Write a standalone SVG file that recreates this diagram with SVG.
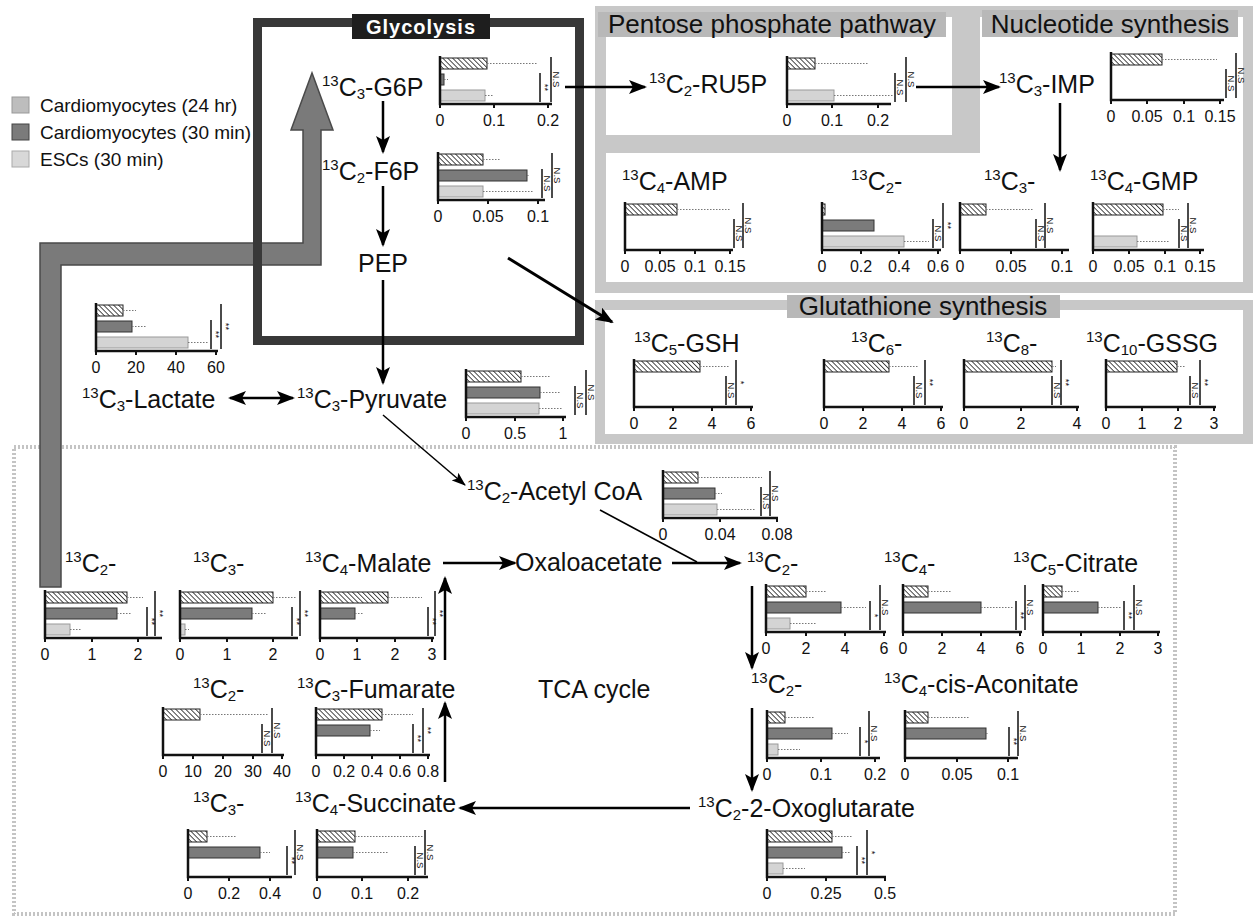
<svg xmlns="http://www.w3.org/2000/svg" width="1254" height="919" viewBox="0 0 1254 919">
<defs>
<style>
text{font-family:"Liberation Sans",Arial,sans-serif;fill:#111}
.lbl{font-size:25px}
.s{font-size:15px}
.tl{font-size:16px;text-anchor:middle}
.sl{font-size:9.5px;text-anchor:middle}
.leg{font-size:19px}
.ttl{font-size:26px;text-anchor:middle}
.ax{fill:none;stroke:#111;stroke-width:2.5}
.tk{fill:none;stroke:#111;stroke-width:2}
.hb{fill:url(#hatch);stroke:#222;stroke-width:1}
.db{fill:#7b7b7b;stroke:#333;stroke-width:1}
.lb{fill:#d4d4d4;stroke:#9a9a9a;stroke-width:1}
.eb{fill:none;stroke:#777;stroke-width:1;stroke-dasharray:1.5 1.5}
.sg{fill:none;stroke:#111;stroke-width:1.5}
.con{fill:none;stroke:#000;stroke-width:2.5;marker-end:url(#ah)}
.thin{fill:none;stroke:#000;stroke-width:1.5}
</style>
<pattern id="hatch" width="3.5" height="3.5" patternUnits="userSpaceOnUse" patternTransform="rotate(-45)"><rect width="3.5" height="3.5" fill="#fff"/><line x1="0" y1="0" x2="0" y2="3.5" stroke="#222" stroke-width="1.6"/></pattern>
<marker id="ah" markerUnits="userSpaceOnUse" markerWidth="18" markerHeight="14" refX="16" refY="7" orient="auto-start-reverse"><path d="M0,0 L18,7 L0,14 L4,7 z" fill="#000"/></marker>
<marker id="ahs" markerUnits="userSpaceOnUse" markerWidth="14" markerHeight="10" refX="13" refY="5" orient="auto"><path d="M0,0 L14,5 L0,10 L3,5 z" fill="#000"/></marker>
</defs>
<rect width="1254" height="919" fill="#fff"/>

<g id="tca-box"><rect x="14" y="447" width="1161" height="467" fill="none" stroke="#c4c4c4" stroke-width="4" stroke-dasharray="2 2"/></g>

<g id="pentose-nucleotide-frames">
<rect x="595" y="6" width="658" height="287" fill="#c8c8c8"/>
<rect x="606" y="17" width="346" height="118" fill="#fff"/>
<polygon points="980,17 1243,17 1243,282 606,282 606,153 980,153" fill="#fff"/>
</g>
<g id="pentose-title"><rect x="598" y="12" width="348" height="25" fill="#b8b8b8"/><text class="ttl" x="772" y="33">Pentose phosphate pathway</text></g>
<g id="nucleotide-title"><rect x="982" y="10" width="256" height="27" fill="#b8b8b8"/><text class="ttl" x="1110" y="33">Nucleotide synthesis</text></g>

<g id="glutathione-frame"><rect x="600" y="305" width="648" height="134" fill="none" stroke="#c8c8c8" stroke-width="10"/>
<rect x="787" y="295" width="273" height="23" fill="#b8b8b8"/><text class="ttl" x="923" y="315">Glutathione synthesis</text></g>

<g id="big-arrow"><path d="M40,587 V243 H303 V130 H291 L312,73 L333,130 H321 V265 H61 V587 Z" fill="#7a7a7a" stroke="#4a4a4a" stroke-width="1.5"/></g>

<g id="glycolysis-frame"><rect x="257.5" y="22.5" width="322" height="318" fill="none" stroke="#383838" stroke-width="9"/>
<rect x="352" y="14" width="138" height="25" fill="#1e1e1e"/><text x="421" y="33.5" text-anchor="middle" font-size="20" font-weight="bold" letter-spacing="1" style="fill:#fff">Glycolysis</text></g>

<g id="legend">
<rect x="12" y="97" width="17" height="16" fill="#bdbdbd" stroke="#999" stroke-width="1"/>
<rect x="12" y="124" width="17" height="16" fill="#7b7b7b" stroke="#444" stroke-width="1"/>
<rect x="12" y="151" width="17" height="16" fill="#d8d8d8" stroke="#aaa" stroke-width="1"/>
<text class="leg" x="40" y="112">Cardiomyocytes (24 hr)</text>
<text class="leg" x="40" y="139">Cardiomyocytes (30 min)</text>
<text class="leg" x="40" y="166">ESCs (30 min)</text>
</g>

<g id="labels">
<text id="n-g6p" class="lbl" x="322" y="96"><tspan class="s" dy="-10">13</tspan><tspan dy="10">C</tspan><tspan class="s" dy="3">3</tspan><tspan dy="-3">-G6P</tspan></text>
<text id="n-f6p" class="lbl" x="322" y="180"><tspan class="s" dy="-10">13</tspan><tspan dy="10">C</tspan><tspan class="s" dy="3">2</tspan><tspan dy="-3">-F6P</tspan></text>
<text id="n-pep" class="lbl" x="358" y="272">PEP</text>
<text id="n-ru5p" class="lbl" x="649" y="93"><tspan class="s" dy="-10">13</tspan><tspan dy="10">C</tspan><tspan class="s" dy="3">2</tspan><tspan dy="-3">-RU5P</tspan></text>
<text id="n-imp" class="lbl" x="999" y="93"><tspan class="s" dy="-10">13</tspan><tspan dy="10">C</tspan><tspan class="s" dy="3">3</tspan><tspan dy="-3">-IMP</tspan></text>
<text id="n-amp" class="lbl" x="622" y="190"><tspan class="s" dy="-10">13</tspan><tspan dy="10">C</tspan><tspan class="s" dy="3">4</tspan><tspan dy="-3">-AMP</tspan></text>
<text id="n-nc2" class="lbl" x="851" y="190"><tspan class="s" dy="-10">13</tspan><tspan dy="10">C</tspan><tspan class="s" dy="3">2</tspan><tspan dy="-3">-</tspan></text>
<text id="n-nc3" class="lbl" x="984" y="190"><tspan class="s" dy="-10">13</tspan><tspan dy="10">C</tspan><tspan class="s" dy="3">3</tspan><tspan dy="-3">-</tspan></text>
<text id="n-gmp" class="lbl" x="1090" y="190"><tspan class="s" dy="-10">13</tspan><tspan dy="10">C</tspan><tspan class="s" dy="3">4</tspan><tspan dy="-3">-GMP</tspan></text>
<text id="n-gsh" class="lbl" x="634" y="352"><tspan class="s" dy="-10">13</tspan><tspan dy="10">C</tspan><tspan class="s" dy="3">5</tspan><tspan dy="-3">-GSH</tspan></text>
<text id="n-c6" class="lbl" x="851" y="352"><tspan class="s" dy="-10">13</tspan><tspan dy="10">C</tspan><tspan class="s" dy="3">6</tspan><tspan dy="-3">-</tspan></text>
<text id="n-c8" class="lbl" x="986" y="352"><tspan class="s" dy="-10">13</tspan><tspan dy="10">C</tspan><tspan class="s" dy="3">8</tspan><tspan dy="-3">-</tspan></text>
<text id="n-gssg" class="lbl" x="1086" y="352"><tspan class="s" dy="-10">13</tspan><tspan dy="10">C</tspan><tspan class="s" dy="3">10</tspan><tspan dy="-3">-GSSG</tspan></text>
<text id="n-lac" class="lbl" x="82" y="408"><tspan class="s" dy="-10">13</tspan><tspan dy="10">C</tspan><tspan class="s" dy="3">3</tspan><tspan dy="-3">-Lactate</tspan></text>
<text id="n-pyr" class="lbl" x="297" y="408"><tspan class="s" dy="-10">13</tspan><tspan dy="10">C</tspan><tspan class="s" dy="3">3</tspan><tspan dy="-3">-Pyruvate</tspan></text>
<text id="n-acoa" class="lbl" x="467" y="500"><tspan class="s" dy="-10">13</tspan><tspan dy="10">C</tspan><tspan class="s" dy="3">2</tspan><tspan dy="-3">-Acetyl CoA</tspan></text>
<text id="n-oaa" class="lbl" x="515" y="571">Oxaloacetate</text>
<text id="n-m2" class="lbl" x="65" y="572"><tspan class="s" dy="-10">13</tspan><tspan dy="10">C</tspan><tspan class="s" dy="3">2</tspan><tspan dy="-3">-</tspan></text>
<text id="n-m3" class="lbl" x="193" y="572"><tspan class="s" dy="-10">13</tspan><tspan dy="10">C</tspan><tspan class="s" dy="3">3</tspan><tspan dy="-3">-</tspan></text>
<text id="n-mal" class="lbl" x="305" y="572"><tspan class="s" dy="-10">13</tspan><tspan dy="10">C</tspan><tspan class="s" dy="3">4</tspan><tspan dy="-3">-Malate</tspan></text>
<text id="n-ci2" class="lbl" x="747" y="572"><tspan class="s" dy="-10">13</tspan><tspan dy="10">C</tspan><tspan class="s" dy="3">2</tspan><tspan dy="-3">-</tspan></text>
<text id="n-ci4" class="lbl" x="884" y="572"><tspan class="s" dy="-10">13</tspan><tspan dy="10">C</tspan><tspan class="s" dy="3">4</tspan><tspan dy="-3">-</tspan></text>
<text id="n-cit" class="lbl" x="1013" y="572"><tspan class="s" dy="-10">13</tspan><tspan dy="10">C</tspan><tspan class="s" dy="3">5</tspan><tspan dy="-3">-Citrate</tspan></text>
<text id="n-f2" class="lbl" x="193" y="698"><tspan class="s" dy="-10">13</tspan><tspan dy="10">C</tspan><tspan class="s" dy="3">2</tspan><tspan dy="-3">-</tspan></text>
<text id="n-fum" class="lbl" x="297" y="698"><tspan class="s" dy="-10">13</tspan><tspan dy="10">C</tspan><tspan class="s" dy="3">3</tspan><tspan dy="-3">-Fumarate</tspan></text>
<text id="n-tca" class="lbl" x="538" y="698">TCA cycle</text>
<text id="n-a2" class="lbl" x="751" y="693"><tspan class="s" dy="-10">13</tspan><tspan dy="10">C</tspan><tspan class="s" dy="3">2</tspan><tspan dy="-3">-</tspan></text>
<text id="n-aco" class="lbl" x="884" y="693"><tspan class="s" dy="-10">13</tspan><tspan dy="10">C</tspan><tspan class="s" dy="3">4</tspan><tspan dy="-3">-cis-Aconitate</tspan></text>
<text id="n-s3" class="lbl" x="193" y="812"><tspan class="s" dy="-10">13</tspan><tspan dy="10">C</tspan><tspan class="s" dy="3">3</tspan><tspan dy="-3">-</tspan></text>
<text id="n-suc" class="lbl" x="295" y="812"><tspan class="s" dy="-10">13</tspan><tspan dy="10">C</tspan><tspan class="s" dy="3">4</tspan><tspan dy="-3">-Succinate</tspan></text>
<text id="n-oxo" class="lbl" x="698" y="817"><tspan class="s" dy="-10">13</tspan><tspan dy="10">C</tspan><tspan class="s" dy="3">2</tspan><tspan dy="-3">-2-Oxoglutarate</tspan></text>
</g>

<g id="charts">
<g id="c-g6p" transform="translate(440,56)">
<rect class="hb" x="0" y="2" width="47" height="11"/><rect class="db" x="0" y="18" width="4" height="11"/><rect class="lb" x="0" y="34" width="45" height="11"/>
<path class="eb" d="M47,7.5H98M4,23.5H8M45,39.5H54"/>
<path class="ax" d="M0,0V48H112"/><path class="tk" d="M0,48v4M54,48v4M108,48v4"/>
<text class="tl" x="0" y="70">0</text><text class="tl" x="54" y="70">0.1</text><text class="tl" x="108" y="70">0.2</text>
<path class="sg" d="M100,17V46M111,1V46"/><text class="sl" transform="translate(101.5,31.5) rotate(90)">**</text><text class="sl" transform="translate(112.5,23.5) rotate(90)">N.S</text>
</g>
<g id="c-f6p" transform="translate(438,152)">
<rect class="hb" x="0" y="2" width="45" height="11"/><rect class="db" x="0" y="18" width="89" height="11"/><rect class="lb" x="0" y="34" width="45" height="11"/>
<path class="eb" d="M45,7.5H62M89,23.5H92M45,39.5H96"/>
<path class="ax" d="M0,0V48H107"/><path class="tk" d="M0,48v4M50,48v4M100,48v4"/>
<text class="tl" x="0" y="70">0</text><text class="tl" x="50" y="70">0.05</text><text class="tl" x="100" y="70">0.1</text>
<path class="sg" d="M104,17V46M114,1V46"/><text class="sl" transform="translate(105.5,31.5) rotate(90)">N.S</text><text class="sl" transform="translate(115.5,23.5) rotate(90)">N.S</text>
</g>
<g id="c-ru5p" transform="translate(787,56)">
<rect class="hb" x="0" y="2" width="28" height="11"/><rect class="lb" x="0" y="34" width="47" height="11"/>
<path class="eb" d="M28,7.5H81M47,39.5H106"/>
<path class="ax" d="M0,0V48H104"/><path class="tk" d="M0,48v4M45,48v4M91,48v4"/>
<text class="tl" x="0" y="70">0</text><text class="tl" x="45" y="70">0.1</text><text class="tl" x="91" y="70">0.2</text>
<path class="sg" d="M108,17V46M119,1V46"/><text class="sl" transform="translate(109.5,31.5) rotate(90)">N.S</text><text class="sl" transform="translate(120.5,23.5) rotate(90)">N.S</text>
</g>
<g id="c-imp" transform="translate(1111,52)">
<rect class="hb" x="0" y="2" width="51" height="11"/>
<path class="eb" d="M51,7.5H106"/>
<path class="ax" d="M0,0V48H113"/><path class="tk" d="M0,48v4M36,48v4M73,48v4M109,48v4"/>
<text class="tl" x="0" y="70">0</text><text class="tl" x="36" y="70">0.05</text><text class="tl" x="73" y="70">0.1</text><text class="tl" x="109" y="70">0.15</text>
<path class="sg" d="M115,17V46M125,1V46"/><text class="sl" transform="translate(116.5,31.5) rotate(90)">N.S</text><text class="sl" transform="translate(126.5,23.5) rotate(90)">N.S</text>
</g>
<g id="c-amp" transform="translate(625,202)">
<rect class="hb" x="0" y="2" width="52" height="11"/>
<path class="eb" d="M52,7.5H105"/>
<path class="ax" d="M0,0V48H108"/><path class="tk" d="M0,48v4M35,48v4M70,48v4M105,48v4"/>
<text class="tl" x="0" y="70">0</text><text class="tl" x="35" y="70">0.05</text><text class="tl" x="70" y="70">0.1</text><text class="tl" x="105" y="70">0.15</text>
<path class="sg" d="M109,17V46M118,1V46"/><text class="sl" transform="translate(110.5,31.5) rotate(90)">N.S</text><text class="sl" transform="translate(119.5,23.5) rotate(90)">N.S</text>
</g>
<g id="c-nc2" transform="translate(822,202)">
<rect class="hb" x="0" y="2" width="3" height="11"/><rect class="db" x="0" y="18" width="52" height="11"/><rect class="lb" x="0" y="34" width="82" height="11"/>
<path class="eb" d="M82,39.5H107"/>
<path class="ax" d="M0,0V48H119"/><path class="tk" d="M0,48v4M39,48v4M77,48v4M116,48v4"/>
<text class="tl" x="0" y="70">0</text><text class="tl" x="39" y="70">0.2</text><text class="tl" x="77" y="70">0.4</text><text class="tl" x="116" y="70">0.6</text>
<path class="sg" d="M111,17V46M121,1V46"/><text class="sl" transform="translate(112.5,31.5) rotate(90)">N.S</text><text class="sl" transform="translate(122.5,23.5) rotate(90)">**</text>
</g>
<g id="c-nc3" transform="translate(960,202)">
<rect class="hb" x="0" y="2" width="26" height="11"/>
<path class="eb" d="M26,7.5H73"/>
<path class="ax" d="M0,0V48H109"/><path class="tk" d="M0,48v4M51,48v4M102,48v4"/>
<text class="tl" x="0" y="70">0</text><text class="tl" x="51" y="70">0.05</text><text class="tl" x="102" y="70">0.1</text>
<path class="sg" d="M76,17V46M85,1V46"/><text class="sl" transform="translate(77.5,31.5) rotate(90)">N.S</text><text class="sl" transform="translate(86.5,23.5) rotate(90)">N.S</text>
</g>
<g id="c-gmp" transform="translate(1093,202)">
<rect class="hb" x="0" y="2" width="70" height="11"/><rect class="lb" x="0" y="34" width="44" height="11"/>
<path class="eb" d="M70,7.5H86M44,39.5H77"/>
<path class="ax" d="M0,0V48H111"/><path class="tk" d="M0,48v4M36,48v4M72,48v4M107,48v4"/>
<text class="tl" x="0" y="70">0</text><text class="tl" x="36" y="70">0.05</text><text class="tl" x="72" y="70">0.1</text><text class="tl" x="107" y="70">0.15</text>
<path class="sg" d="M86,17V46M95,1V46"/><text class="sl" transform="translate(87.5,31.5) rotate(90)">N.S</text><text class="sl" transform="translate(96.5,23.5) rotate(90)">N.S</text>
</g>
<g id="c-gsh" transform="translate(634,359)">
<rect class="hb" x="0" y="2" width="66" height="11"/>
<path class="eb" d="M66,7.5H96"/>
<path class="ax" d="M0,0V48H119"/><path class="tk" d="M0,48v4M39,48v4M78,48v4M117,48v4"/>
<text class="tl" x="0" y="70">0</text><text class="tl" x="39" y="70">2</text><text class="tl" x="78" y="70">4</text><text class="tl" x="117" y="70">6</text>
<path class="sg" d="M92,17V46M102,1V46"/><text class="sl" transform="translate(93.5,31.5) rotate(90)">N.S</text><text class="sl" transform="translate(103.5,23.5) rotate(90)">*</text>
</g>
<g id="c-c6" transform="translate(824,359)">
<rect class="hb" x="0" y="2" width="65" height="11"/>
<path class="eb" d="M65,7.5H94"/>
<path class="ax" d="M0,0V48H119"/><path class="tk" d="M0,48v4M39,48v4M78,48v4M117,48v4"/>
<text class="tl" x="0" y="70">0</text><text class="tl" x="39" y="70">2</text><text class="tl" x="78" y="70">4</text><text class="tl" x="117" y="70">6</text>
<path class="sg" d="M90,17V46M101,1V46"/><text class="sl" transform="translate(91.5,31.5) rotate(90)">N.S</text><text class="sl" transform="translate(102.5,23.5) rotate(90)">**</text>
</g>
<g id="c-c8" transform="translate(964,359)">
<rect class="hb" x="0" y="2" width="88" height="11"/>
<path class="eb" d="M88,7.5H92"/>
<path class="ax" d="M0,0V48H115"/><path class="tk" d="M0,48v4M57,48v4M113,48v4"/>
<text class="tl" x="0" y="70">0</text><text class="tl" x="57" y="70">2</text><text class="tl" x="113" y="70">4</text>
<path class="sg" d="M88,17V46M97,1V46"/><text class="sl" transform="translate(89.5,31.5) rotate(90)">N.S</text><text class="sl" transform="translate(98.5,23.5) rotate(90)">**</text>
</g>
<g id="c-gssg" transform="translate(1106,359)">
<rect class="hb" x="0" y="2" width="71" height="11"/>
<path class="eb" d="M71,7.5H79"/>
<path class="ax" d="M0,0V48H110"/><path class="tk" d="M0,48v4M36,48v4M72,48v4M108,48v4"/>
<text class="tl" x="0" y="70">0</text><text class="tl" x="36" y="70">1</text><text class="tl" x="72" y="70">2</text><text class="tl" x="108" y="70">3</text>
<path class="sg" d="M84,17V46M94,1V46"/><text class="sl" transform="translate(85.5,31.5) rotate(90)">N.S</text><text class="sl" transform="translate(95.5,23.5) rotate(90)">**</text>
</g>
<g id="c-lac" transform="translate(96,303)">
<rect class="hb" x="0" y="2" width="27" height="11"/><rect class="db" x="0" y="18" width="36" height="11"/><rect class="lb" x="0" y="34" width="92" height="11"/>
<path class="eb" d="M27,7.5H40M36,23.5H51M92,39.5H113"/>
<path class="ax" d="M0,0V48H122"/><path class="tk" d="M0,48v4M40,48v4M80,48v4M120,48v4"/>
<text class="tl" x="0" y="70">0</text><text class="tl" x="40" y="70">20</text><text class="tl" x="80" y="70">40</text><text class="tl" x="120" y="70">60</text>
<path class="sg" d="M115,17V46M125,1V46"/><text class="sl" transform="translate(116.5,31.5) rotate(90)">**</text><text class="sl" transform="translate(126.5,23.5) rotate(90)">**</text>
</g>
<g id="c-pyr" transform="translate(466,369)">
<rect class="hb" x="0" y="2" width="55" height="11"/><rect class="db" x="0" y="18" width="74" height="11"/><rect class="lb" x="0" y="34" width="73" height="11"/>
<path class="eb" d="M55,7.5H84M74,23.5H95M73,39.5H97"/>
<path class="ax" d="M0,0V48H100"/><path class="tk" d="M0,48v4M49,48v4M97,48v4"/>
<text class="tl" x="0" y="70">0</text><text class="tl" x="49" y="70">0.5</text><text class="tl" x="97" y="70">1</text>
<path class="sg" d="M109,17V46M120,1V46"/><text class="sl" transform="translate(110.5,31.5) rotate(90)">N.S</text><text class="sl" transform="translate(121.5,23.5) rotate(90)">N.S</text>
</g>
<g id="c-acoa" transform="translate(663,470)">
<rect class="hb" x="0" y="2" width="35" height="11"/><rect class="db" x="0" y="18" width="52" height="11"/><rect class="lb" x="0" y="34" width="54" height="11"/>
<path class="eb" d="M35,7.5H99M52,23.5H59M54,39.5H92"/>
<path class="ax" d="M0,0V48H115"/><path class="tk" d="M0,48v4M57,48v4M114,48v4"/>
<text class="tl" x="0" y="70">0</text><text class="tl" x="57" y="70">0.04</text><text class="tl" x="114" y="70">0.08</text>
<path class="sg" d="M98,17V46M107,1V46"/><text class="sl" transform="translate(99.5,31.5) rotate(90)">N.S</text><text class="sl" transform="translate(108.5,23.5) rotate(90)">N.S</text>
</g>
<g id="c-m2" transform="translate(45,590)">
<rect class="hb" x="0" y="2" width="82" height="11"/><rect class="db" x="0" y="18" width="72" height="11"/><rect class="lb" x="0" y="34" width="25" height="11"/>
<path class="eb" d="M82,7.5H98M72,23.5H87M25,39.5H37"/>
<path class="ax" d="M0,0V48H117"/><path class="tk" d="M0,48v4M47,48v4M93,48v4"/>
<text class="tl" x="0" y="70">0</text><text class="tl" x="47" y="70">1</text><text class="tl" x="93" y="70">2</text>
<path class="sg" d="M102,17V46M110,1V46"/><text class="sl" transform="translate(103.5,31.5) rotate(90)">**</text><text class="sl" transform="translate(111.5,23.5) rotate(90)">**</text>
</g>
<g id="c-m3" transform="translate(180,590)">
<rect class="hb" x="0" y="2" width="93" height="11"/><rect class="db" x="0" y="18" width="72" height="11"/><rect class="lb" x="0" y="34" width="5" height="11"/>
<path class="eb" d="M93,7.5H117M72,23.5H87M5,39.5H9"/>
<path class="ax" d="M0,0V48H118"/><path class="tk" d="M0,48v4M47,48v4M93,48v4"/>
<text class="tl" x="0" y="70">0</text><text class="tl" x="47" y="70">1</text><text class="tl" x="93" y="70">2</text>
<path class="sg" d="M112,17V46M120,1V46"/><text class="sl" transform="translate(113.5,31.5) rotate(90)">**</text><text class="sl" transform="translate(121.5,23.5) rotate(90)">**</text>
</g>
<g id="c-mal" transform="translate(320,590)">
<rect class="hb" x="0" y="2" width="68" height="11"/><rect class="db" x="0" y="18" width="35" height="11"/>
<path class="eb" d="M68,7.5H102M35,23.5H43"/>
<path class="ax" d="M0,0V48H114"/><path class="tk" d="M0,48v4M37,48v4M75,48v4M112,48v4"/>
<text class="tl" x="0" y="70">0</text><text class="tl" x="37" y="70">1</text><text class="tl" x="75" y="70">2</text><text class="tl" x="112" y="70">3</text>
<path class="sg" d="M108,17V46M115,1V46"/><text class="sl" transform="translate(109.5,31.5) rotate(90)">**</text><text class="sl" transform="translate(116.5,23.5) rotate(90)">**</text>
</g>
<g id="c-ci2" transform="translate(766,584)">
<rect class="hb" x="0" y="2" width="40" height="11"/><rect class="db" x="0" y="18" width="75" height="11"/><rect class="lb" x="0" y="34" width="24" height="11"/>
<path class="eb" d="M40,7.5H61M75,23.5H100M24,39.5H51"/>
<path class="ax" d="M0,0V48H120"/><path class="tk" d="M0,48v4M40,48v4M79,48v4M118,48v4"/>
<text class="tl" x="0" y="70">0</text><text class="tl" x="40" y="70">2</text><text class="tl" x="79" y="70">4</text><text class="tl" x="118" y="70">6</text>
<path class="sg" d="M104,17V46M114,1V46"/><text class="sl" transform="translate(105.5,31.5) rotate(90)">*</text><text class="sl" transform="translate(115.5,23.5) rotate(90)">N.S</text>
</g>
<g id="c-ci4" transform="translate(903,584)">
<rect class="hb" x="0" y="2" width="25" height="11"/><rect class="db" x="0" y="18" width="78" height="11"/>
<path class="eb" d="M25,7.5H48M78,23.5H110"/>
<path class="ax" d="M0,0V48H119"/><path class="tk" d="M0,48v4M39,48v4M78,48v4M117,48v4"/>
<text class="tl" x="0" y="70">0</text><text class="tl" x="39" y="70">2</text><text class="tl" x="78" y="70">4</text><text class="tl" x="117" y="70">6</text>
<path class="sg" d="M113,17V46M122,1V46"/><text class="sl" transform="translate(114.5,31.5) rotate(90)">**</text><text class="sl" transform="translate(123.5,23.5) rotate(90)">N.S</text>
</g>
<g id="c-cit" transform="translate(1043,584)">
<rect class="hb" x="0" y="2" width="19" height="11"/><rect class="db" x="0" y="18" width="55" height="11"/>
<path class="eb" d="M19,7.5H37M55,23.5H79"/>
<path class="ax" d="M0,0V48H117"/><path class="tk" d="M0,48v4M38,48v4M77,48v4M115,48v4"/>
<text class="tl" x="0" y="70">0</text><text class="tl" x="38" y="70">1</text><text class="tl" x="77" y="70">2</text><text class="tl" x="115" y="70">3</text>
<path class="sg" d="M81,17V46M91,1V46"/><text class="sl" transform="translate(82.5,31.5) rotate(90)">**</text><text class="sl" transform="translate(92.5,23.5) rotate(90)">N.S</text>
</g>
<g id="c-f2" transform="translate(163,707)">
<rect class="hb" x="0" y="2" width="37" height="11"/>
<path class="eb" d="M37,7.5H105"/>
<path class="ax" d="M0,0V48H121"/><path class="tk" d="M0,48v4M30,48v4M60,48v4M90,48v4M119,48v4"/>
<text class="tl" x="0" y="70">0</text><text class="tl" x="30" y="70">10</text><text class="tl" x="60" y="70">20</text><text class="tl" x="90" y="70">30</text><text class="tl" x="119" y="70">40</text>
<path class="sg" d="M99,17V46M109,1V46"/><text class="sl" transform="translate(100.5,31.5) rotate(90)">N.S</text><text class="sl" transform="translate(110.5,23.5) rotate(90)">N.S</text>
</g>
<g id="c-fum" transform="translate(316,707)">
<rect class="hb" x="0" y="2" width="66" height="11"/><rect class="db" x="0" y="18" width="54" height="11"/>
<path class="eb" d="M66,7.5H97M54,23.5H64"/>
<path class="ax" d="M0,0V48H114"/><path class="tk" d="M0,48v4M28,48v4M56,48v4M84,48v4M112,48v4"/>
<text class="tl" x="0" y="70">0</text><text class="tl" x="28" y="70">0.2</text><text class="tl" x="56" y="70">0.4</text><text class="tl" x="84" y="70">0.6</text><text class="tl" x="112" y="70">0.8</text>
<path class="sg" d="M97,17V46M107,1V46"/><text class="sl" transform="translate(98.5,31.5) rotate(90)">**</text><text class="sl" transform="translate(108.5,23.5) rotate(90)">**</text>
</g>
<g id="c-a2" transform="translate(767,710)">
<rect class="hb" x="0" y="2" width="18" height="11"/><rect class="db" x="0" y="18" width="65" height="11"/><rect class="lb" x="0" y="34" width="11" height="11"/>
<path class="eb" d="M18,7.5H48M65,23.5H81M11,39.5H33"/>
<path class="ax" d="M0,0V48H113"/><path class="tk" d="M0,48v4M54,48v4M108,48v4"/>
<text class="tl" x="0" y="70">0</text><text class="tl" x="54" y="70">0.1</text><text class="tl" x="108" y="70">0.2</text>
<path class="sg" d="M93,17V46M102,1V46"/><text class="sl" transform="translate(94.5,31.5) rotate(90)">*</text><text class="sl" transform="translate(103.5,23.5) rotate(90)">N.S</text>
</g>
<g id="c-aco" transform="translate(905,710)">
<rect class="hb" x="0" y="2" width="23" height="11"/><rect class="db" x="0" y="18" width="81" height="11"/>
<path class="eb" d="M23,7.5H65M81,23.5H84"/>
<path class="ax" d="M0,0V48H113"/><path class="tk" d="M0,48v4M52,48v4M103,48v4"/>
<text class="tl" x="0" y="70">0</text><text class="tl" x="52" y="70">0.05</text><text class="tl" x="103" y="70">0.1</text>
<path class="sg" d="M104,17V46M113,1V46"/><text class="sl" transform="translate(105.5,31.5) rotate(90)">**</text><text class="sl" transform="translate(114.5,23.5) rotate(90)">N.S</text>
</g>
<g id="c-s3" transform="translate(188,829)">
<rect class="hb" x="0" y="2" width="19" height="11"/><rect class="db" x="0" y="18" width="72" height="11"/>
<path class="eb" d="M19,7.5H49M72,23.5H82"/>
<path class="ax" d="M0,0V48H104"/><path class="tk" d="M0,48v4M41,48v4M82,48v4"/>
<text class="tl" x="0" y="70">0</text><text class="tl" x="41" y="70">0.2</text><text class="tl" x="82" y="70">0.4</text>
<path class="sg" d="M99,17V46M107,1V46"/><text class="sl" transform="translate(100.5,31.5) rotate(90)">**</text><text class="sl" transform="translate(108.5,23.5) rotate(90)">N.S</text>
</g>
<g id="c-suc" transform="translate(317,829)">
<rect class="hb" x="0" y="2" width="38" height="11"/><rect class="db" x="0" y="18" width="36" height="11"/>
<path class="eb" d="M38,7.5H106M36,23.5H71"/>
<path class="ax" d="M0,0V48H111"/><path class="tk" d="M0,48v4M45,48v4M91,48v4"/>
<text class="tl" x="0" y="70">0</text><text class="tl" x="45" y="70">0.1</text><text class="tl" x="91" y="70">0.2</text>
<path class="sg" d="M98,17V46M108,1V46"/><text class="sl" transform="translate(99.5,31.5) rotate(90)">N.S</text><text class="sl" transform="translate(109.5,23.5) rotate(90)">N.S</text>
</g>
<g id="c-oxo" transform="translate(767,829)">
<rect class="hb" x="0" y="2" width="65" height="11"/><rect class="db" x="0" y="18" width="75" height="11"/><rect class="lb" x="0" y="34" width="16" height="11"/>
<path class="eb" d="M65,7.5H86M75,23.5H83M16,39.5H38"/>
<path class="ax" d="M0,0V48H119"/><path class="tk" d="M0,48v4M59,48v4M118,48v4"/>
<text class="tl" x="0" y="70">0</text><text class="tl" x="59" y="70">0.25</text><text class="tl" x="118" y="70">0.5</text>
<path class="sg" d="M90,17V46M100,1V46"/><text class="sl" transform="translate(91.5,31.5) rotate(90)">**</text><text class="sl" transform="translate(101.5,23.5) rotate(90)">*</text>
</g>
</g>

<g id="connectors">
<path class="con" d="M383,101 V152"/>
<path class="con" d="M383,186 V245"/>
<path class="con" d="M383,280 V383"/>
<path class="con" d="M565,87 H645"/>
<path class="con" d="M916,87 H999"/>
<path class="con" d="M1060,103 V170"/>
<path class="con" d="M508,258 L612,322" style="stroke-width:3"/>
<path class="con" d="M230,398 H293" style="marker-start:url(#ah)"/>
<path class="thin" d="M383,415 L465,485" style="marker-end:url(#ahs)"/>
<path class="thin" d="M600,510 L697,562"/>
<path class="con" d="M443,563 H515"/>
<path class="con" d="M672,563 H740"/>
<path class="con" d="M752,586 V668"/>
<path class="con" d="M752,708 V790"/>
<path class="con" d="M690,808 H460"/>
<path class="con" d="M445,782 V703"/>
<path class="con" d="M445,660 V578"/>
</g>
</svg>
